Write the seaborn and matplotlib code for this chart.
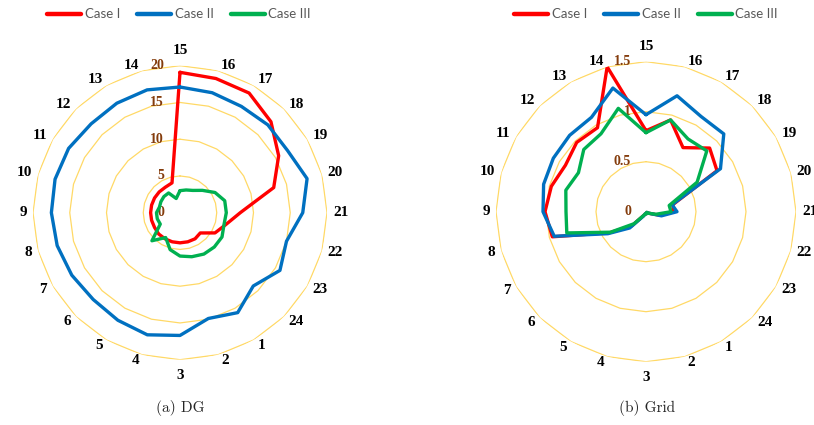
import numpy as np
import pandas as pd
import matplotlib
matplotlib.use("Agg")
import matplotlib.pyplot as plt
from matplotlib.lines import Line2D
import seaborn as sns

# Hourly profiles (hour 1..24) for the three operating cases
hours = list(range(1, 25))
cases = ["Case I", "Case II", "Case III"]

# (a) DG output
dg_case1 = [4.1, 4.1, 4.1, 4.1, 4.1, 4.1, 4.0, 4.0, 4.0, 4.0, 4.0, 4.0,
            4.0, 4.2, 19.1, 18.9, 18.8, 17.5, 15.5, 13.2, 8.2, 6.4, 5.5, 3.9]
dg_case2 = [15.7, 14.9, 16.7, 17.2, 16.9, 16.7, 17.0, 17.3, 17.5, 17.6, 17.5, 17.1,
            17.2, 17.3, 17.1, 16.9, 16.7, 16.9, 16.9, 17.9, 16.7, 15.0, 15.7, 14.1]
dg_case3 = [6.5, 6.2, 5.9, 5.2, 3.9, 5.4, 3.1, 3.2, 3.2, 2.9, 3.0, 3.1,
            3.1, 2.0, 3.0, 3.2, 3.5, 4.3, 5.5, 6.3, 6.3, 6.2, 6.6, 6.6]

# (b) Grid exchange
grid_case1 = [0.02, 0.02, 0.02, 0.02, 0.04, 0.20, 0.42, 0.97, 1.01, 0.98, 0.93, 0.98,
              0.97, 1.50, 0.81, 0.95, 0.74, 0.90, 0.82, 0.28, 0.27, 0.13, 0.03, 0.01]
grid_case2 = [0.02, 0.02, 0.02, 0.02, 0.05, 0.23, 0.44, 0.95, 1.03, 1.06, 1.07, 1.08,
              1.09, 1.28, 0.97, 1.20, 1.10, 1.10, 0.86, 0.27, 0.31, 0.16, 0.03, 0.01]
grid_case3 = [0.02, 0.02, 0.02, 0.02, 0.04, 0.17, 0.41, 0.82, 0.80, 0.83, 0.78, 0.88,
              0.90, 1.07, 0.79, 0.95, 0.84, 0.86, 0.59, 0.24, 0.25, 0.10, 0.03, 0.01]

dg_rings = [0, 5, 10, 15, 20]
dg_ring_labels = ["0", "5", "10", "15", "20"]
grid_rings = [0, 0.5, 1.0, 1.5]
grid_ring_labels = ["0", "0.5", "1", "1.5"]

palette = {"Case I": "#FF0000", "Case II": "#0070C0", "Case III": "#00B050"}
ring_color = "#FFD966"
tick_brown = "#843C0C"
serif = ["Liberation Serif", "DejaVu Serif"]

sns.set_theme(style="white")
plt.rcParams["font.family"] = ["Liberation Serif", "DejaVu Serif"]


def hour_angle(h):
    # hour 15 points straight up, hours advance clockwise
    return np.deg2rad(((h - 15) % 24) * 15.0)


def long_frame(series):
    rows = []
    for case, vals in zip(cases, series):
        for h, v in zip(hours, vals):
            rows.append((case, h, hour_angle(h), v))
        # repeat hour 15 at 2*pi so each polygon closes
        rows.append((case, 15, 2 * np.pi, vals[hours.index(15)]))
    return pd.DataFrame(rows, columns=["case", "hour", "theta", "value"])


def hour_label(ax, h, rmax):
    th = hour_angle(h)
    s, c = np.sin(th), np.cos(th)
    if abs(s) < 1e-6:
        ha, dx, dy = "center", 0.0, 15.5 * np.sign(c)
    else:
        ha = "left" if s > 0 else "right"
        dx = np.sign(s) * (2 + 4 * abs(s))
        dy = np.sign(c) * min(5.5, 6.6 * abs(c))
    ax.annotate(str(h), xy=(th, rmax), xytext=(dx, dy), textcoords="offset pixels",
                ha=ha, va="center", fontsize=11, fontweight="bold", color="black",
                family=serif, annotation_clip=False)


def radar(ax, df, rings, labels, label_dx):
    ax.set_theta_zero_location("N")
    ax.set_theta_direction(-1)
    rmax = rings[-1]

    # polygonal grid rings with a vertex on every hour spoke
    order = sorted(hours, key=hour_angle)
    ring_theta = [hour_angle(h) for h in order] + [2 * np.pi]
    for r in rings[1:]:
        ax.plot(ring_theta, [r] * len(ring_theta), color=ring_color, lw=0.9, zorder=1)

    sns.lineplot(data=df, x="theta", y="value", hue="case", hue_order=cases,
                 palette=palette, sort=True, estimator=None, linewidth=2.4,
                 legend=False, ax=ax, zorder=3)

    ax.set_ylim(0, rmax)
    ax.set_xlim(0, 2 * np.pi)
    ax.grid(False)
    ax.set_xticks([])
    ax.set_yticks([])
    ax.spines["polar"].set_visible(False)
    ax.set_xlabel("")
    ax.set_ylabel("")

    for r, lab in zip(rings, labels):
        ax.annotate(lab, xy=(0, r), xytext=(label_dx, 0), textcoords="offset pixels",
                    ha="right", va="center", color=tick_brown, fontsize=10,
                    fontweight="bold", family=serif, zorder=2)

    for h in hours:
        hour_label(ax, h, rmax)


W, H = 814, 425
fig = plt.figure(figsize=(W / 100, H / 100), dpi=100)

# left panel: centre (180, 212.7) px, radius 147 px
cx, cy, rad = 180, 212.7, 147
ax1 = fig.add_axes([(cx - rad) / W, (H - cy - rad) / H, 2 * rad / W, 2 * rad / H],
                   projection="polar")
# right panel: centre (646, 211.7) px, radius 150 px
cx, cy, rad = 646, 211.7, 150
ax2 = fig.add_axes([(cx - rad) / W, (H - cy - rad) / H, 2 * rad / W, 2 * rad / H],
                   projection="polar")

radar(ax1, long_frame([dg_case1, dg_case2, dg_case3]), dg_rings, dg_ring_labels, -16)
radar(ax2, long_frame([grid_case1, grid_case2, grid_case3]), grid_rings, grid_ring_labels, -15)

handles = [Line2D([], [], color=palette[c], lw=3.2) for c in cases]
for xc in (179 / W, 646 / W):
    leg = fig.legend(handles, cases, loc="center", bbox_to_anchor=(xc, 1 - 14.5 / H),
                     ncol=3, frameon=False, handlelength=2.6, handletextpad=0.25,
                     columnspacing=1.3, prop={"family": ["Lato", "DejaVu Sans"], "size": 9.5})
    for t in leg.get_texts():
        t.set_color("#595959")

fig.text(180 / W, 1 - 408 / H, "(a) DG", ha="center", va="center",
         family=["cmr10", "DejaVu Serif"], fontsize=11)
fig.text(647 / W, 1 - 408 / H, "(b) Grid", ha="center", va="center",
         family=["cmr10", "DejaVu Serif"], fontsize=11)

fig.savefig("out.png", dpi=100)
